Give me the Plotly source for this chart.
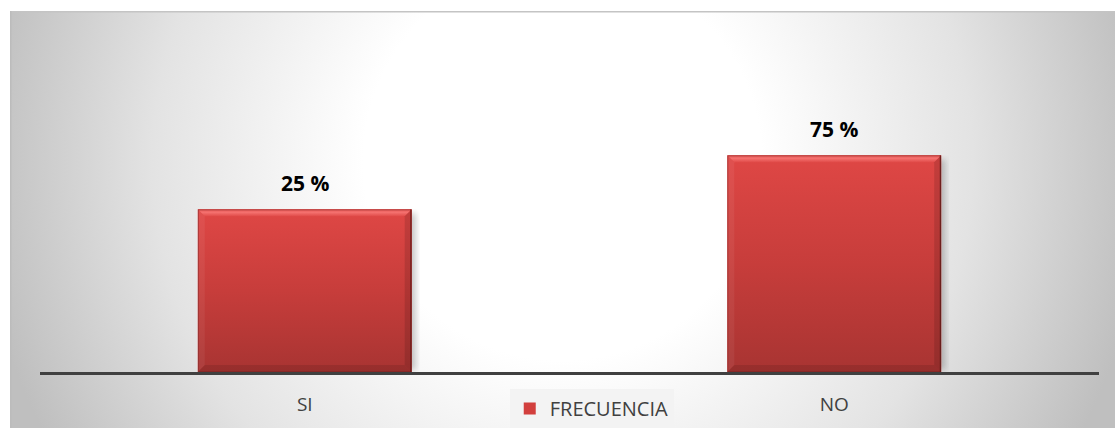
import base64
import plotly.graph_objects as go

# Survey answers and their share of responses
CATEGORIES = ["SI", "NO"]
VALUES = [25, 75]
SERIES_NAME = "FRECUENCIA"

# Value axis: bars stand on the axis floor
FLOOR = -125.5
CEIL = 191.0

W, H = 1115, 428
M_L, M_R, M_T, M_B = 40, 16, 30, 56
PLOT_W = W - M_L - M_R
PLOT_H = H - M_T - M_B
BAR_W = 0.404

RED = "#d23f3d"


def svg_uri(svg):
    return "data:image/svg+xml;base64," + base64.b64encode(svg.encode()).decode()


def background_svg(w, h):
    return f"""<svg xmlns='http://www.w3.org/2000/svg' width='{w}' height='{h}' viewBox='0 0 {w} {h}' preserveAspectRatio='none'>
<defs><radialGradient id='g' gradientUnits='userSpaceOnUse' cx='{w*0.5}' cy='{h*0.36}' r='{w*0.53}'>
<stop offset='0' stop-color='#ffffff'/><stop offset='0.34' stop-color='#ffffff'/>
<stop offset='0.7' stop-color='#e3e3e3'/><stop offset='1' stop-color='#bfbfbf'/></radialGradient></defs>
<rect x='0' y='0' width='{w}' height='{h}' fill='url(#g)'/>
<line x1='0' y1='0.75' x2='{w}' y2='0.75' stroke='#c4c4c4' stroke-width='1.5'/>
<line x1='0.75' y1='0' x2='0.75' y2='{h}' stroke='#bcbcbc' stroke-width='1.5'/>
</svg>"""


def bevel_svg(w, h):
    b = 7
    return f"""<svg xmlns='http://www.w3.org/2000/svg' width='{w:.1f}' height='{h:.1f}' viewBox='0 0 {w:.1f} {h:.1f}' preserveAspectRatio='none'>
<defs>
<linearGradient id='f' x1='0' y1='0' x2='0' y2='1'>
<stop offset='0' stop-color='#df4745'/><stop offset='0.5' stop-color='#c73d3b'/><stop offset='1' stop-color='#a83432'/></linearGradient>
<linearGradient id='t' x1='0' y1='0' x2='0' y2='1'>
<stop offset='0' stop-color='#e85a58'/><stop offset='0.45' stop-color='#f4706e'/><stop offset='1' stop-color='#e04a48'/></linearGradient>
</defs>
<rect x='0' y='0' width='{w:.1f}' height='{h:.1f}' fill='url(#f)'/>
<polygon points='0,0 {w:.1f},0 {w-b:.1f},{b} {b},{b}' fill='url(#t)'/>
<polygon points='0,0 {b},{b} {b},{h-b:.1f} 0,{h:.1f}' fill='#ffffff' fill-opacity='0.06'/>
<polygon points='{w:.1f},0 {w:.1f},{h:.1f} {w-b:.1f},{h-b:.1f} {w-b:.1f},{b}' fill='#000000' fill-opacity='0.12'/>
<polygon points='0,{h:.1f} {b},{h-b:.1f} {w-b:.1f},{h-b:.1f} {w:.1f},{h:.1f}' fill='#000000' fill-opacity='0.10'/>
<rect x='0.5' y='0.5' width='{w-1:.1f}' height='{h-1:.1f}' fill='none' stroke='#7a2422' stroke-opacity='0.55' stroke-width='1'/>
<line x1='{w-0.75:.1f}' y1='0' x2='{w-0.75:.1f}' y2='{h:.1f}' stroke='#5a1816' stroke-opacity='0.7' stroke-width='1.5'/>
</svg>"""


def shadow_svg(w, h):
    return f"""<svg xmlns='http://www.w3.org/2000/svg' width='{w:.1f}' height='{h:.1f}' viewBox='0 0 {w:.1f} {h:.1f}' preserveAspectRatio='none'>
<defs><filter id='s' x='-20%' y='-20%' width='140%' height='140%'><feGaussianBlur stdDeviation='3'/></filter></defs>
<rect x='8' y='4' width='{w-12:.1f}' height='{h-6:.1f}' fill='#000000' fill-opacity='0.22' filter='url(#s)'/>
</svg>"""


px_per_unit = PLOT_H / (CEIL - FLOOR)
px_per_cat = PLOT_W / len(CATEGORIES)

fig = go.Figure()
fig.add_trace(go.Bar(
    x=CATEGORIES,
    y=[v - FLOOR for v in VALUES],
    base=FLOOR,
    width=BAR_W,
    name=SERIES_NAME,
    marker=dict(color=RED, line=dict(width=0)),
    hovertext=[f"{v} %" for v in VALUES],
    hoverinfo="text",
    showlegend=True,
))

images = []
# panel background with soft radial shading
panel_x0, panel_y0 = 10, 11
images.append(dict(
    source=svg_uri(background_svg(W - panel_x0, H - panel_y0)),
    xref="paper", yref="paper",
    x=(panel_x0 - M_L) / PLOT_W, y=(H - M_B - panel_y0) / PLOT_H,
    sizex=(W - panel_x0) / PLOT_W, sizey=(H - panel_y0) / PLOT_H,
    xanchor="left", yanchor="top", sizing="stretch", layer="below",
))
for i, v in enumerate(VALUES):
    wpx = BAR_W * px_per_cat
    hpx = (v - FLOOR) * px_per_unit
    pad_x = 8 / px_per_cat
    images.append(dict(
        source=svg_uri(shadow_svg(wpx + 8, hpx + 4)),
        xref="x", yref="y",
        x=i - BAR_W / 2, y=v,
        sizex=BAR_W + pad_x, sizey=(v - FLOOR),
        xanchor="left", yanchor="top", sizing="stretch", layer="below",
    ))
    images.append(dict(
        source=svg_uri(bevel_svg(wpx, hpx)),
        xref="x", yref="y",
        x=i - BAR_W / 2, y=v,
        sizex=BAR_W, sizey=v - FLOOR,
        xanchor="left", yanchor="top", sizing="stretch", layer="above",
    ))

annotations = [
    dict(x=c, y=v, text=f"<b>{v} %</b>", showarrow=False, yanchor="bottom",
         yshift=10, font=dict(family="Open Sans", size=21, color="#000000"))
    for c, v in zip(CATEGORIES, VALUES)
]

fig.update_layout(
    width=W, height=H,
    margin=dict(l=M_L, r=M_R, t=M_T, b=M_B, autoexpand=False),
    paper_bgcolor="#ffffff",
    plot_bgcolor="rgba(0,0,0,0)",
    images=images,
    annotations=annotations,
    font=dict(family="Open Sans", color="#404040"),
    xaxis=dict(
        type="category", range=[-0.5, 1.5],
        showline=True, linecolor="#404040", linewidth=3,
        ticks="outside", ticklen=13, tickcolor="rgba(0,0,0,0)",
        tickfont=dict(size=19, color="#404040"),
        showgrid=False, zeroline=False, fixedrange=True,
    ),
    yaxis=dict(range=[FLOOR, CEIL], visible=False, showgrid=False,
               zeroline=False, fixedrange=True),
    legend=dict(
        orientation="h", x=0.521, xanchor="center",
        yref="container", y=0, yanchor="bottom",
        bgcolor="#f3f3f3", font=dict(size=20, color="#404040"),
        itemsizing="constant",
    ),
    showlegend=True,
    bargap=0.5,
)

fig.write_html("out.html")
